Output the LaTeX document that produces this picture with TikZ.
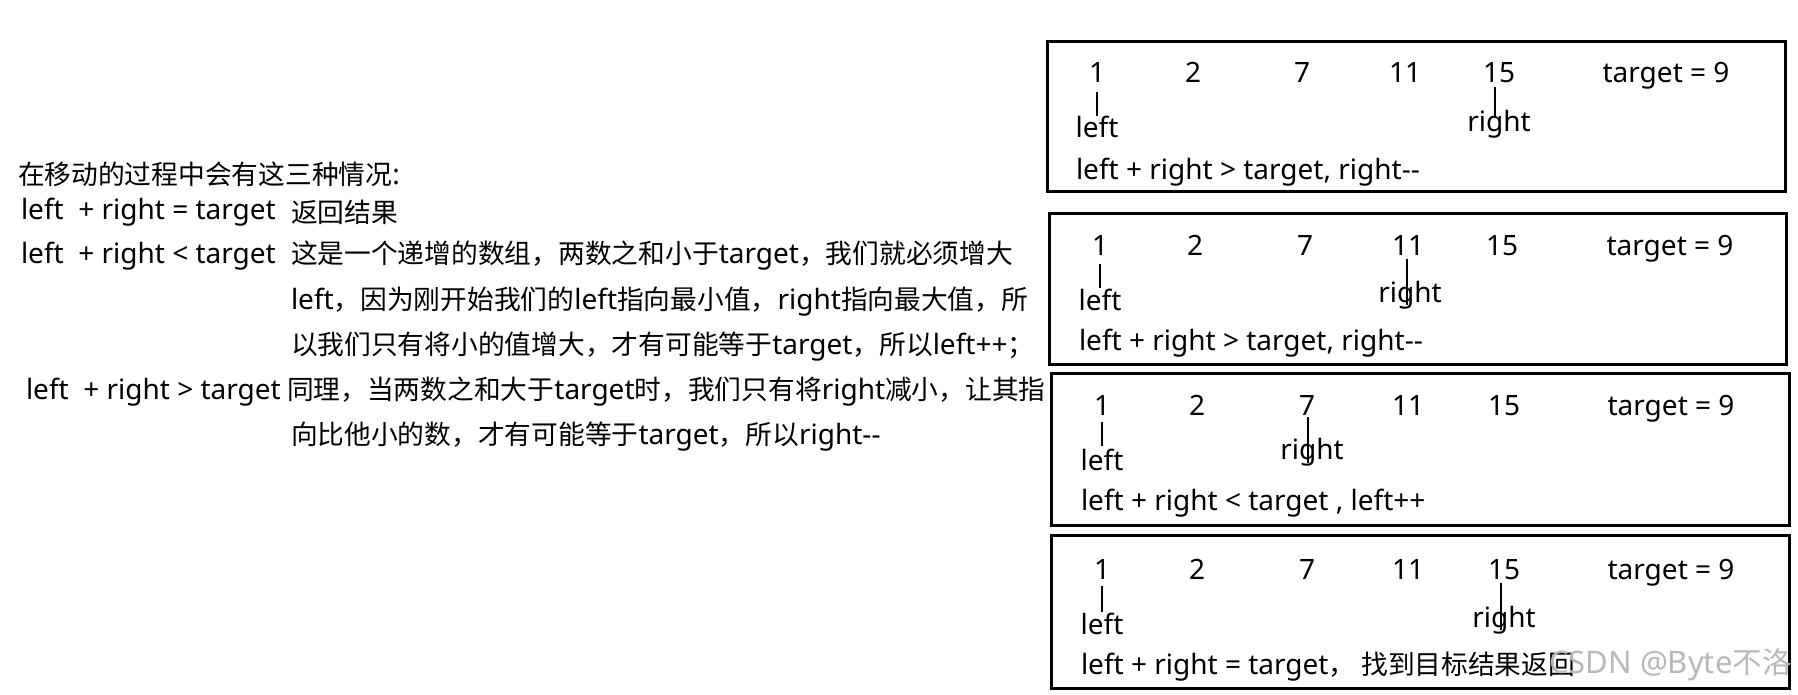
\documentclass[tikz,border=0pt]{standalone}
\usepackage{fontspec}
\setmainfont{Noto Sans}
\newfontfamily\cjk[Scale=0.955]{Noto Sans CJK SC}
\newcommand\zh[1]{{\cjk #1}}
\begin{document}
\begin{tikzpicture}[x=1pt,y=-1pt,
  txt/.style={inner sep=0pt, outer sep=0pt, font=\fontsize{28}{32}\selectfont},
  num/.style={txt, anchor=base},
  panel/.style={draw, line width=2.7pt, inner sep=0pt, anchor=north west},
  tickline/.style={line width=2.2pt},
  wm/.style={inner sep=0pt, text=black!28, font=\fontsize{31}{34}\selectfont, anchor=east}
]
\useasboundingbox[fill=white] (0,0) rectangle (1798,695);

% ---------- left explanation ----------
\node[txt, anchor=west] (title) at (18,174) {\zh{在移动的过程中会有这三种情况}:};
\node[txt, anchor=west] (c1) at (21,212) {left\ \ + right = target};
\node[txt, anchor=west] (c1t) at (291,212) {\zh{返回结果}};
\node[txt, anchor=west] (c2) at (21,256) {left\ \ + right < target};
\node[txt, anchor=west] (c2a) at (291,256) {\zh{这是一个递增的数组，两数之和小于}target\zh{，我们就必须增大}};
\node[txt, anchor=west] (c2b) at (291,302) {left\zh{，因为刚开始我们的}left\zh{指向最小值，}right\zh{指向最大值，所}};
\node[txt, anchor=west] (c2c) at (291,347) {\zh{以我们只有将小的值增大，才有可能等于}target\zh{，所以}left++\zh{；}};
\node[txt, anchor=west] (c3) at (26,392) {left\ \ + right > target};
\node[txt, anchor=west] (c3a) at (287,392) {\zh{同理，当两数之和大于}target\zh{时，我们只有将}right\zh{减小，让其指}};
\node[txt, anchor=west] (c3b) at (291,437) {\zh{向比他小的数，才有可能等于}target\zh{，所以}right-{}-};

% ---------- panel 1 ----------
\node[panel, minimum width=738pt, minimum height=150pt] (b1) at (1046,40) {};
\node[num] (p1n1) at (1097,83) {1};
\node[num] (p1n2) at (1193,83) {2};
\node[num] (p1n3) at (1302,83) {7};
\node[num] (p1n4) at (1405,83) {11};
\node[num] (p1n5) at (1499,83) {15};
\node[num] (p1t) at (1666,83) {target = 9};
\node[txt] (p1l) at (1097,127) {left};
\node[txt] (p1r) at (1499,124) {right};
\coordinate (p1la) at (1097,92); \coordinate (p1lb) at (1097,116);
\coordinate (p1ra) at (1495,87); \coordinate (p1rb) at (1495,118);
\draw[tickline] (p1la) -- (p1lb);
\draw[tickline] (p1ra) -- (p1rb);
\node[txt, anchor=west] (p1s) at (1076,172) {left + right > target, right-{}-};

% ---------- panel 2 ----------
\node[panel, minimum width=737pt, minimum height=151pt] (b2) at (1048,212) {};
\node[num] (p2n1) at (1100,255) {1};
\node[num] (p2n2) at (1195,255) {2};
\node[num] (p2n3) at (1305,255) {7};
\node[num] (p2n4) at (1408,255) {11};
\node[num] (p2n5) at (1502,255) {15};
\node[num] (p2t) at (1670,255) {target = 9};
\node[txt] (p2l) at (1100,300) {left};
\node[txt] (p2r) at (1410,295) {right};
\coordinate (p2la) at (1100,264); \coordinate (p2lb) at (1100,288);
\coordinate (p2ra) at (1407,259); \coordinate (p2rb) at (1407,305);
\draw[tickline] (p2la) -- (p2lb);
\draw[tickline] (p2ra) -- (p2rb);
\node[txt, anchor=west] (p2s) at (1079,343) {left + right > target, right-{}-};

% ---------- panel 3 ----------
\node[panel, minimum width=738pt, minimum height=152pt] (b3) at (1050,372) {};
\node[num] (p3n1) at (1102,415) {1};
\node[num] (p3n2) at (1197,415) {2};
\node[num] (p3n3) at (1307,415) {7};
\node[num] (p3n4) at (1408,415) {11};
\node[num] (p3n5) at (1504,415) {15};
\node[num] (p3t) at (1671,415) {target = 9};
\node[txt] (p3l) at (1102,460) {left};
\node[txt] (p3r) at (1312,452) {right};
\coordinate (p3la) at (1102,422); \coordinate (p3lb) at (1102,446);
\coordinate (p3ra) at (1308,417); \coordinate (p3rb) at (1308,463);
\draw[tickline] (p3la) -- (p3lb);
\draw[tickline] (p3ra) -- (p3rb);
\node[txt, anchor=west] (p3s) at (1081,503) {left + right < target , left++};

% ---------- panel 4 ----------
\node[panel, minimum width=738pt, minimum height=153pt] (b4) at (1050,534) {};
\node[num] (p4n1) at (1102,579) {1};
\node[num] (p4n2) at (1197,579) {2};
\node[num] (p4n3) at (1307,579) {7};
\node[num] (p4n4) at (1408,579) {11};
\node[num] (p4n5) at (1504,579) {15};
\node[num] (p4t) at (1671,579) {target = 9};
\node[txt] (p4l) at (1102,624) {left};
\node[txt] (p4r) at (1504,620) {right};
\coordinate (p4la) at (1102,586); \coordinate (p4lb) at (1102,612);
\coordinate (p4ra) at (1501,583); \coordinate (p4rb) at (1501,630);
\draw[tickline] (p4la) -- (p4lb);
\draw[tickline] (p4ra) -- (p4rb);
\node[txt, anchor=west] (p4s) at (1081,667) {left + right = target\zh{，\ 找到目标结果返回}};

\node[wm] (wmark) at (1792,665) {CSDN @Byte\zh{不洛}};
\end{tikzpicture}
\end{document}
